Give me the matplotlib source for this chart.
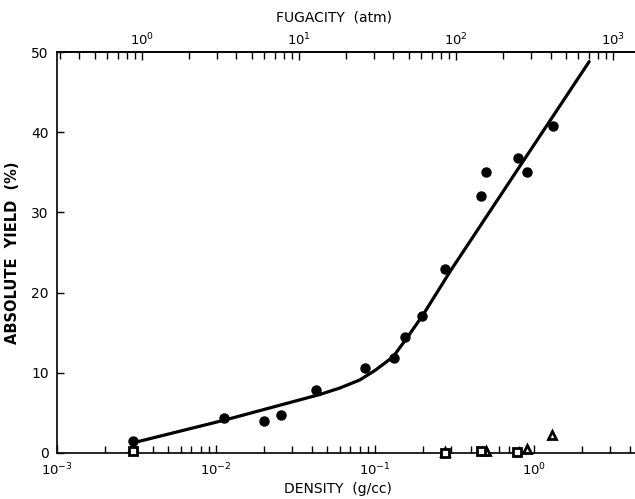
import matplotlib
matplotlib.use("Agg")
import matplotlib.pyplot as plt
import numpy as np

# filled circles: absolute yield vs density
circle_density = [0.0030, 0.0113, 0.0200, 0.0258, 0.0428, 0.0865, 0.132, 0.155, 0.198,
                  0.274, 0.466, 0.499, 0.790, 0.900, 1.31]
circle_yield = [1.5, 4.4, 4.0, 4.7, 7.9, 10.6, 11.9, 14.5, 17.1,
                23.0, 32.0, 35.0, 36.8, 35.0, 40.8]

# open triangles / open squares near the baseline
tri_density = [0.0030, 0.274, 0.500, 0.900, 1.30]
tri_yield = [0.8, 0.1, 0.3, 0.5, 2.2]
sq_density = [0.0030, 0.274, 0.466, 0.785]
sq_yield = [0.3, 0.0, 0.2, 0.1]

# hand-drawn curve through the circles
curve_density = [0.0032, 0.0113, 0.045, 0.060, 0.080, 0.100, 0.130, 0.158, 0.200, 0.300, 2.22]
curve_yield = [1.4, 4.1, 7.3, 8.1, 9.1, 10.3, 12.0, 14.3, 17.2, 22.8, 48.8]

y_ticks = [0, 10, 20, 30, 40, 50]

fig = plt.figure(figsize=(6.35, 4.99), dpi=100)
ax = fig.add_axes([57 / 635, 1 - 453 / 499, 578 / 635, 401 / 499])

ax.plot(curve_density, curve_yield, color='black', lw=2.3, solid_capstyle='round', zorder=3)
ax.plot(circle_density, circle_yield, 'o', color='black', ms=6.5, clip_on=False, zorder=4)
ax.plot(tri_density, tri_yield, '^', mfc='white', mec='black', mew=2.0, ms=6,
        clip_on=False, zorder=5)
ax.plot(sq_density, sq_yield, 's', mfc='white', mec='black', mew=2.0, ms=5.5,
        clip_on=False, zorder=5)

ax.set_xscale('log')
ax.set_xlim(1e-3, 4.31)
ax.set_ylim(0, 50)
ax.set_yticks(y_ticks)

ax.spines['right'].set_visible(False)
for side in ['left', 'bottom', 'top']:
    ax.spines[side].set_linewidth(1.2)

ax.tick_params(axis='both', which='both', direction='in', top=False, right=False,
               labelsize=10, width=1.0)
ax.tick_params(axis='x', which='major', length=6, pad=6, labelsize=9.5)
ax.tick_params(axis='x', which='minor', length=5)
ax.tick_params(axis='y', which='major', length=5, pad=6)

ax.set_xlabel('DENSITY  (g/cc)', fontsize=10)
ax.xaxis.set_label_coords(0.486, -0.072)
ax.set_ylabel('ABSOLUTE  YIELD  (%)', fontsize=10.5, fontweight='bold')
ax.yaxis.set_label_coords(-0.064, 0.5)

# fugacity axis on top
ax2 = ax.twiny()
ax2.set_xscale('log')
ax2.set_xlim(0.288, 1380)
for side in ['right', 'left', 'bottom']:
    ax2.spines[side].set_visible(False)
ax2.spines['top'].set_linewidth(1.2)
ax2.tick_params(axis='x', which='both', direction='in', labelsize=9.5, width=1.0)
ax2.tick_params(axis='x', which='major', length=6, pad=3)
ax2.tick_params(axis='x', which='minor', length=5)
ax2.set_xlabel('FUGACITY  (atm)', fontsize=10)
ax2.xaxis.set_label_coords(0.48, 1.075)

fig.savefig('out.png', dpi=100)
